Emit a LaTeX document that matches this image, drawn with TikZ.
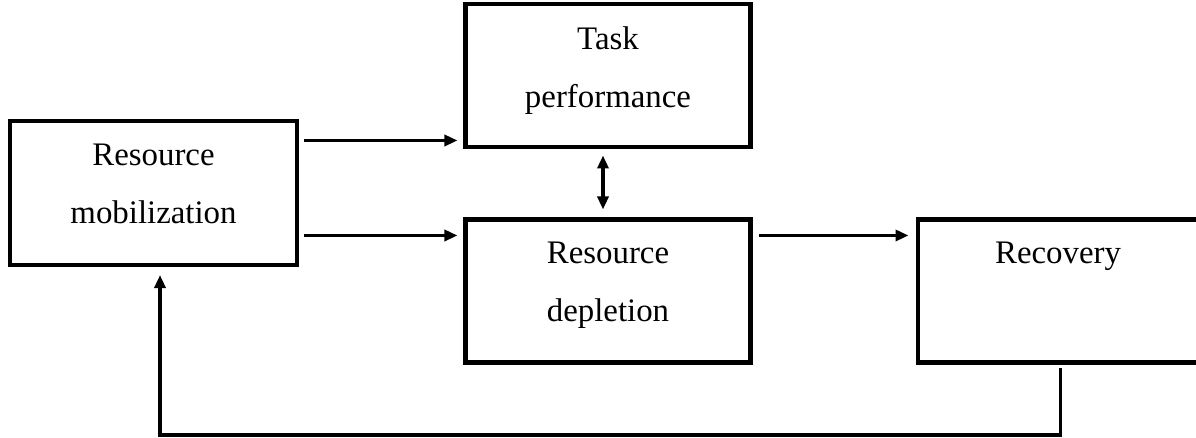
\documentclass[tikz,border=0pt]{standalone}
\usepackage{fontspec}
\setmainfont{Liberation Serif}
\usepackage{tikz}
\usetikzlibrary{arrows.meta, positioning, calc}

\begin{document}
\begin{tikzpicture}[
    box/.style={draw=black, line width=2.3pt, align=center, inner sep=0pt, minimum width=5.7cm, minimum height=2.86cm, text depth=10pt, font=\fontsize{18.7}{33}\selectfont},
    arrow/.style={-{Triangle[length=0.26cm, width=0.22cm]}, line width=2pt, draw=black},
    dblarrow/.style={{Triangle[length=0.26cm, width=0.22cm]}-{Triangle[length=0.26cm, width=0.22cm]}, line width=2pt, draw=black}
]
\useasboundingbox (0,0) rectangle (23.92,8.74);

% Boxes
\node[box, minimum width=5.74cm, minimum height=2.88cm] (mob) at (3.07,4.88) {Resource\\mobilization};
\node[box] (depl) at (12.16,2.92) {Resource\\depletion};
\node[box, above=1.36cm of depl] (task) {Task\\performance};
\node[box, minimum width=5.62cm, right=3.26cm of depl] (recov) {Recovery\\~};

% Arrow levels
\coordinate (upper) at ([yshift=0.18cm]task.south west);
\coordinate (lower) at ([yshift=-0.36cm]depl.north west);
\coordinate (floor) at (0,0.04);

% Connecting Arrows
\draw[arrow, shorten <=0.1cm, shorten >=0.12cm] (mob.east |- upper) -- (upper);
\draw[arrow, shorten <=0.1cm, shorten >=0.12cm] (mob.east |- lower) -- (lower);
\draw[arrow, shorten <=0.12cm, shorten >=0.14cm] (depl.east |- lower) -- (recov.west |- lower);
\draw[dblarrow, shorten <=0.12cm, shorten >=0.16cm] ([xshift=-0.1cm]task.south) -- ([xshift=-0.1cm]depl.north);
\draw[arrow, shorten <=0.06cm, shorten >=0.16cm] ([xshift=0.05cm]recov.south) -- ([xshift=0.05cm]recov.south |- floor) -| ([xshift=0.13cm]mob.south);

\end{tikzpicture}
\end{document}
